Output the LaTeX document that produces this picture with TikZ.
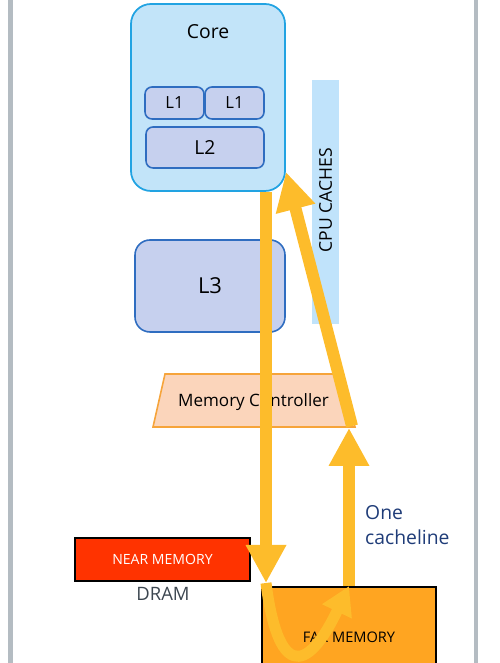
\documentclass[tikz,border=0pt]{standalone}
\usepackage{fontspec}
\setmainfont{Open Sans}
\usetikzlibrary{arrows.meta}

\definecolor{rahmengrau}{HTML}{B4BCC2}
\definecolor{kernblau}{HTML}{C2E4F9}
\definecolor{kernrand}{HTML}{22A3E2}
\definecolor{cachefuell}{HTML}{C6D0EE}
\definecolor{cacherand}{HTML}{2F6DC0}
\definecolor{cpublau}{HTML}{C0E3FB}
\definecolor{mcfuell}{HTML}{FBD5BB}
\definecolor{mcrand}{HTML}{F6A43A}
\definecolor{nahrot}{HTML}{FF3300}
\definecolor{fernorange}{HTML}{FFA521}
\definecolor{pfeilgelb}{HTML}{FDBC2B}
\definecolor{textblau}{HTML}{1F3C78}
\definecolor{textgrau}{HTML}{3C4650}

\begin{document}
\begin{tikzpicture}[
	cache/.style={draw=cacherand, fill=cachefuell, line width=0.9pt, rounded corners=4pt},
	speicher/.style={draw=black, line width=1pt},
	pfeil/.style={draw=pfeilgelb, line width=0.24cm, -{Triangle[width=0.76cm,length=0.76cm]}}
	]
	\useasboundingbox (0,0) rectangle (10,13.26);
	\clip (0,0) rectangle (10,13.26);
	% Rahmen
	\fill[rahmengrau] (0.16,0) rectangle (0.25,13.26);
	\fill[rahmengrau] (9.47,0) rectangle (9.56,13.26);
	% Kern mit L1 und L2
	\node[draw=kernrand, fill=kernblau, line width=1pt, rounded corners=0.4cm, minimum width=3.08cm, minimum height=3.74cm] (core) at (4.16,11.31) {};
	\node[font=\fontsize{11}{13}\selectfont] (corelabel) at (4.16,12.62) {Core};
	\node[cache, minimum width=1.18cm, minimum height=0.64cm, font=\fontsize{9.5}{11}\selectfont] (l1a) at (3.49,11.20) {L1};
	\node[cache, minimum width=1.18cm, minimum height=0.64cm, font=\fontsize{9.5}{11}\selectfont] (l1b) at (4.69,11.20) {L1};
	\node[cache, minimum width=2.36cm, minimum height=0.82cm, font=\fontsize{11}{13}\selectfont] (l2) at (4.10,10.31) {L2};
	% L3 und Balken
	\node[cache, rounded corners=0.3cm, minimum width=3cm, minimum height=1.84cm, font=\fontsize{12.5}{15}\selectfont] (l3) at (4.20,7.54) {L3};
	\node[fill=cpublau, minimum width=0.54cm, minimum height=4.88cm] (cpu) at (6.51,9.22) {};
	\node[rotate=90, font=\fontsize{10}{12}\selectfont] (cpulabel) at (6.51,9.26) {CPU CACHES};
	% Memory Controller
	\draw[draw=mcrand, fill=mcfuell, line width=0.9pt] (3.30,5.78) -- (6.80,5.78) -- (7.10,4.72) -- (3.06,4.72) -- cycle;
	\node[font=\fontsize{9.7}{12}\selectfont] (mc) at (5.07,5.21) {Memory Controller};
	% Speicher
	\node[speicher, fill=nahrot, minimum width=3.5cm, minimum height=0.86cm, text=white, font=\fontsize{8}{10}\selectfont] (near) at (3.25,2.07) {NEAR MEMORY};
	\node[text=textgrau, font=\fontsize{10.5}{12}\selectfont] (dram) at (3.26,1.38) {DRAM};
	\node[speicher, fill=fernorange, minimum width=3.48cm, minimum height=2.0cm, font=\fontsize{8.3}{10}\selectfont] (far) at (6.98,0.52) {FAR MEMORY};
	\node[text=textblau, align=left, anchor=west, font=\fontsize{11}{14}\selectfont] (zeile) at (7.18,2.76) {One\\cacheline};
	% Pfeile
	\coordinate (abwaerts) at (5.32,1.60);
	\coordinate (hoch) at (6.98,4.70);
	\coordinate (schraeg) at (7.04,4.74);
	\coordinate (kernecke) at (5.72,9.82);
	\draw[pfeil] (core.south -| abwaerts) -- (abwaerts);
	\draw[pfeil] (far.north -| hoch) -- (hoch);
	\draw[pfeil] (schraeg) -- (kernecke);
	\draw[pfeil, line width=0.22cm, -{Triangle[width=0.62cm,length=0.56cm]}] (abwaerts) .. controls (5.55,-0.2) and (6.1,-0.3) .. (far.north -| hoch);
\end{tikzpicture}
\end{document}
